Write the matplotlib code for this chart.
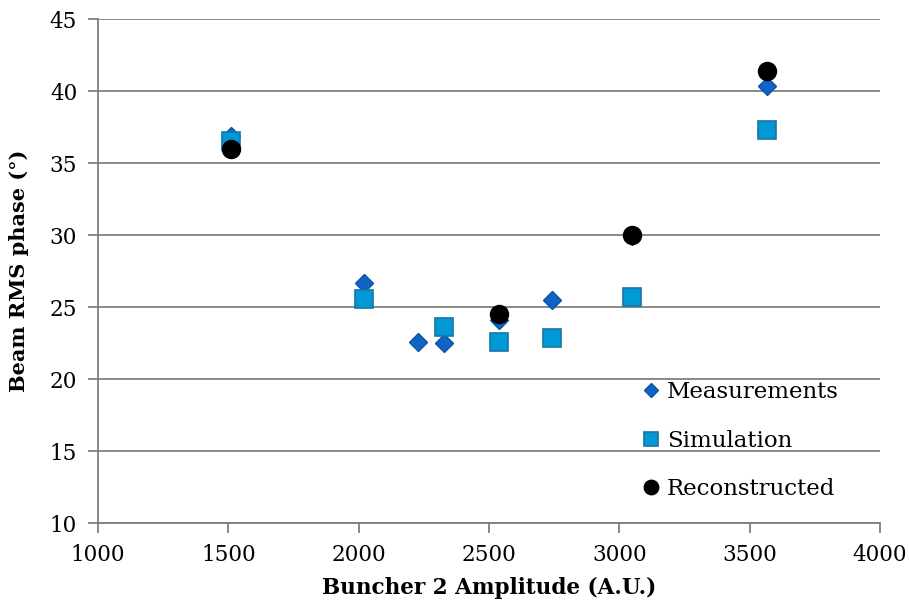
import matplotlib.pyplot as plt

# values
meas_x = [1510, 2020, 2228, 2328, 2540, 2740, 3048, 3568]
meas_y = [36.9, 26.7, 22.6, 22.5, 24.1, 25.5, 29.9, 40.35]

sim_x = [1510, 2020, 2328, 2540, 2740, 3048, 3568]
sim_y = [36.5, 25.55, 23.6, 22.6, 22.85, 25.7, 37.3]

rec_x = [1510, 2540, 3048, 3568]
rec_y = [36.0, 24.5, 30.0, 41.4]

xticks = [1000, 1500, 2000, 2500, 3000, 3500, 4000]
yticks = [10, 15, 20, 25, 30, 35, 40, 45]

plt.rcParams['font.family'] = ['DejaVu Serif']

fig = plt.figure(figsize=(9.09, 6.08), dpi=100)
ax = fig.add_axes([98 / 909, 1 - 523 / 608, 782 / 909, 504 / 608])

grid_c = '#7f7f7f'
ax.set_xlim(1000, 4000)
ax.set_ylim(10, 45)
ax.set_xticks(xticks)
ax.set_yticks(yticks)
ax.yaxis.grid(True, color=grid_c, linewidth=1.3)
ax.set_axisbelow(True)
for s in ['top', 'right']:
    ax.spines[s].set_visible(False)
for s in ['left', 'bottom']:
    ax.spines[s].set_color(grid_c)
    ax.spines[s].set_linewidth(1.3)
ax.tick_params(direction='out', length=7, width=1.3, color=grid_c,
               labelsize=15.5, pad=8)

ax.plot(meas_x, meas_y, 'D', ms=9.5, color='#0f64c4', mec='#0b52a6',
        mew=1, label='Measurements', zorder=3)
ax.plot(sim_x, sim_y, 's', ms=13, color='#0099d5', mec='#1675a6',
        mew=1.2, label='Simulation', zorder=3)
ax.plot(rec_x, rec_y, 'o', ms=13, color='black', label='Reconstructed',
        zorder=4)

ax.set_xlabel('Buncher 2 Amplitude (A.U.)', fontsize=15.5, fontweight='bold')
ax.set_ylabel('Beam RMS phase (°)', fontsize=15, fontweight='bold')
ax.xaxis.set_label_coords(0.5, (523 - 577) / 504)
ax.yaxis.set_label_coords(-0.088, 0.5)

ax.legend(loc='upper left', bbox_to_anchor=((630 - 98) / 782, (523 - 370) / 504),
          frameon=False, fontsize=16.5, markerscale=0.8, handlelength=0.8,
          handletextpad=0.3, labelspacing=1.15, borderpad=0)

fig.savefig('out.png', dpi=100)
